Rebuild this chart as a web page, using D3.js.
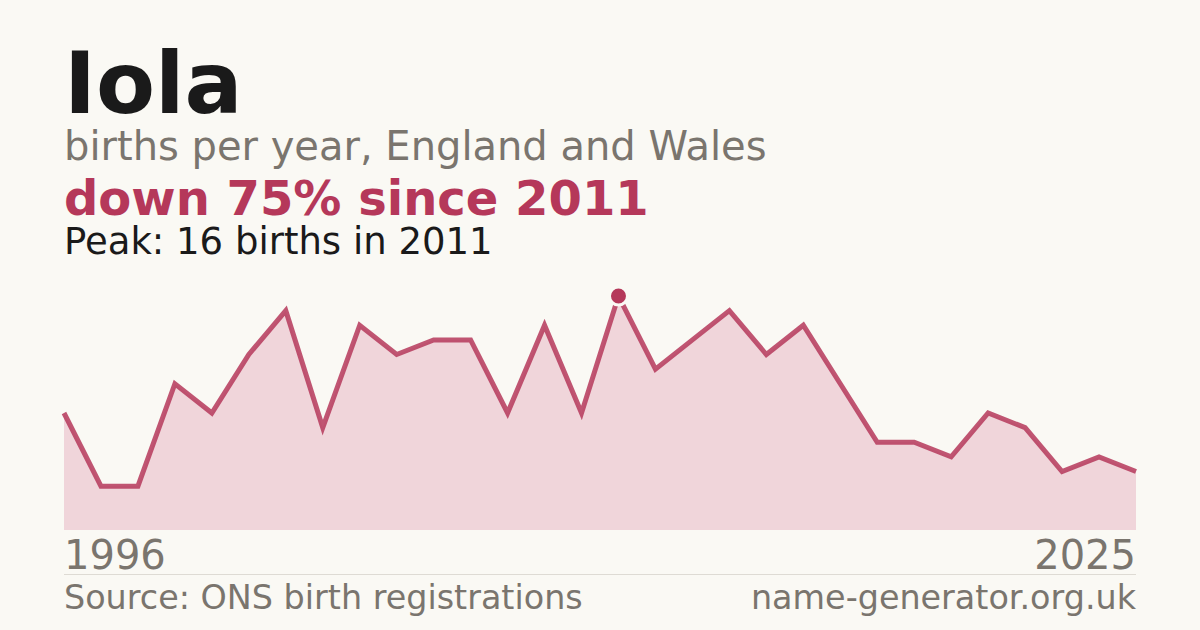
<!DOCTYPE html>
<html>
<head>
<meta charset="utf-8">
<script src="https://cdn.jsdelivr.net/npm/d3@7"></script>
<style>
  html, body { margin: 0; padding: 0; background: #faf9f4; }
  svg { display: block; font-family: "DejaVu Sans", sans-serif; }
</style>
</head>
<body>
<script>
//Width and height
var w = 1200;
var h = 630;

//Data: births per year
var years = [1996, 1997, 1998, 1999, 2000, 2001, 2002, 2003, 2004, 2005,
             2006, 2007, 2008, 2009, 2010, 2011, 2012, 2013, 2014, 2015,
             2016, 2017, 2018, 2019, 2020, 2021, 2022, 2023, 2024, 2025];
var births = [8, 3, 3, 10, 8, 12, 15, 7, 14, 12,
              13, 13, 8, 14, 8, 16, 11, 13, 15, 12,
              14, 10, 6, 6, 5, 8, 7, 4, 5, 4];
var axisLabels = ["1996", "2025"];

var name = "Iola";
var subtitle = "births per year, England and Wales";
var headline = "down 75% since 2011";
var peakNote = "Peak: 16 births in 2011";
var source = "Source: ONS birth registrations";
var site = "name-generator.org.uk";

var accent = "#b5385a";
var grey = "#7a756e";

var data = years.map(function(y, i) { return {year: y, value: births[i]}; });

//Scales
var x = d3.scaleLinear()
          .domain(d3.extent(years))
          .range([64, 1136]);

var y = d3.scaleLinear()
          .domain([0, d3.max(births)])
          .range([530, 296]);

//Create SVG element
var svg = d3.select("body")
            .append("svg")
            .attr("width", w)
            .attr("height", h);

svg.append("rect")
   .attr("width", w)
   .attr("height", h)
   .attr("fill", "#faf9f4");

//Titles
svg.append("text")
   .attr("x", 64).attr("y", 113)
   .attr("font-size", 86).attr("font-weight", "bold")
   .attr("fill", "#1a1a1a")
   .text(name);

svg.append("text")
   .attr("x", 64).attr("y", 160)
   .attr("font-size", 40)
   .attr("fill", grey)
   .text(subtitle);

svg.append("text")
   .attr("x", 64).attr("y", 215)
   .attr("font-size", 48).attr("font-weight", "bold")
   .attr("fill", accent)
   .text(headline);

svg.append("text")
   .attr("x", 64).attr("y", 254)
   .attr("font-size", 37)
   .attr("fill", "#1a1a1a")
   .text(peakNote);

//Area and line
var area = d3.area()
             .x(function(d) { return x(d.year); })
             .y0(y(0))
             .y1(function(d) { return y(d.value); });

var line = d3.line()
             .x(function(d) { return x(d.year); })
             .y(function(d) { return y(d.value); });

svg.append("path")
   .datum(data)
   .attr("d", area)
   .attr("fill", "#f0d5da");

svg.append("path")
   .datum(data)
   .attr("d", line)
   .attr("fill", "none")
   .attr("stroke", accent)
   .attr("stroke-opacity", 0.85)
   .attr("stroke-width", 5)
   .attr("stroke-linejoin", "miter");

//Peak marker
var peak = data.reduce(function(a, b) { return b.value > a.value ? b : a; });
svg.append("circle")
   .attr("cx", x(peak.year))
   .attr("cy", y(peak.value))
   .attr("r", 9)
   .attr("fill", accent)
   .attr("stroke", "#faf9f4")
   .attr("stroke-width", 3);

//Axis labels
svg.append("text")
   .attr("x", x(years[0])).attr("y", 569)
   .attr("font-size", 40)
   .attr("fill", grey)
   .text(axisLabels[0]);

svg.append("text")
   .attr("x", x(years[years.length - 1])).attr("y", 569)
   .attr("font-size", 40)
   .attr("text-anchor", "end")
   .attr("fill", grey)
   .text(axisLabels[1]);

//Separator
svg.append("line")
   .attr("x1", 64).attr("x2", 1136)
   .attr("y1", 574.5).attr("y2", 574.5)
   .attr("stroke", "#dedbd4")
   .attr("stroke-width", 1);

//Footer
svg.append("text")
   .attr("x", 64).attr("y", 609)
   .attr("font-size", 33.4)
   .attr("fill", grey)
   .text(source);

svg.append("text")
   .attr("x", 1136).attr("y", 609)
   .attr("font-size", 33.4)
   .attr("text-anchor", "end")
   .attr("fill", grey)
   .text(site);
</script>
</body>
</html>
